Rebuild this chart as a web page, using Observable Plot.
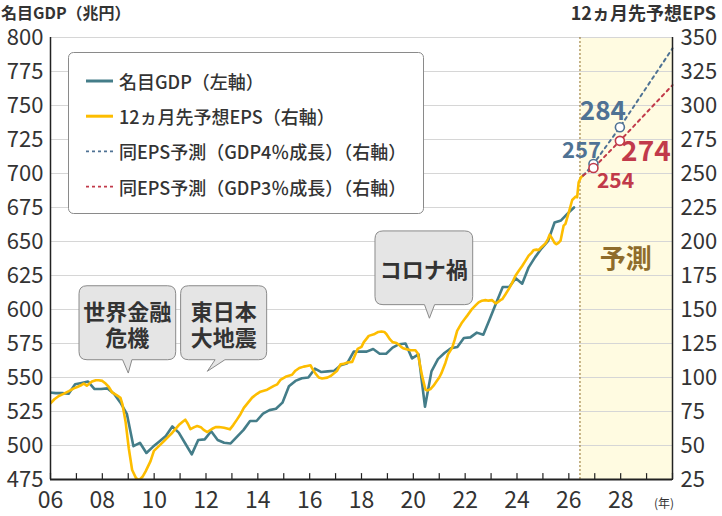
<!DOCTYPE html>
<html><head><meta charset="utf-8">
<script src="https://cdn.jsdelivr.net/npm/d3@7"></script>
<script src="https://cdn.jsdelivr.net/npm/@observablehq/plot@0.6"></script>
<style>body{margin:0;background:#fff;} svg{display:block}</style>
</head><body><div id="chart"></div>
<script>
const FONT = "'Noto Sans CJK JP','Noto Sans',sans-serif";

// ---- data ----
const gdpStart = 2005.95;      // first quarterly observation (decimal year)
const quarterStep = 0.25;
const gdpValues = [539,538.5,538.5,538,545,546,547,541.5,541.5,542,538,531.5,523,499.5,502,494.5,499,503,507,514,509.5,501.5,493.5,504,504.5,510.5,504,502,501.5,506.5,511.5,518,518,523.5,526,527,531.5,543.5,547.5,549.5,550,556.5,554,554.5,555,559,560.5,569,569,569,571,567.5,567.5,572,574.5,575,564,567,528.5,554.5,563.5,568,571.5,572.5,579,579.5,583,581.5,593,605,616.5,616.5,623,619,631,638.5,645,650.5,664,665.5,670.5,675];

const epsTimes = [2006.0,2006.15,2006.32,2006.5,2006.71,2006.9,2007.03,2007.2,2007.29,2007.4,2007.6,2007.75,2007.86,2008.0,2008.1,2008.25,2008.38,2008.55,2008.7,2008.78,2008.9,2009.02,2009.15,2009.3,2009.42,2009.55,2009.67,2009.86,2009.99,2010.18,2010.37,2010.55,2010.7,2010.95,2011.1,2011.2,2011.3,2011.4,2011.55,2011.66,2011.8,2011.91,2012.05,2012.24,2012.37,2012.5,2012.7,2012.92,2013.05,2013.2,2013.33,2013.46,2013.6,2013.78,2013.97,2014.1,2014.36,2014.62,2014.75,2014.87,2015.07,2015.32,2015.45,2015.6,2015.77,2015.9,2016.03,2016.12,2016.22,2016.35,2016.48,2016.68,2016.8,2016.93,2017.06,2017.19,2017.32,2017.45,2017.64,2017.72,2017.85,2018.0,2018.09,2018.19,2018.28,2018.51,2018.65,2018.77,2018.88,2018.96,2019.1,2019.2,2019.35,2019.45,2019.54,2019.63,2019.8,2019.89,2020.08,2020.18,2020.25,2020.34,2020.47,2020.55,2020.66,2020.78,2020.89,2021.0,2021.08,2021.24,2021.34,2021.5,2021.6,2021.69,2021.88,2021.98,2022.08,2022.27,2022.4,2022.52,2022.65,2022.78,2022.9,2023.04,2023.17,2023.23,2023.36,2023.43,2023.55,2023.68,2023.8,2023.94,2024.07,2024.2,2024.3,2024.45,2024.55,2024.65,2024.75,2024.84,2024.95,2025.1,2025.2,2025.26,2025.33,2025.39,2025.45,2025.52,2025.6,2025.68,2025.8,2025.87,2026.0,2026.13,2026.26,2026.32,2026.38,2026.47,2026.55];
const epsValues = [81,84,86.4,88,90,92,93,94.5,95.5,94,97,98,98,97.5,96,93,89,87,85,80,67,48,32,26,24.5,27,31,38.5,46,49.5,53,56.5,59.4,65,67.5,69,66,62,63.5,64.3,63.5,61.5,59.9,62.3,63.5,63.6,63,61.9,65,69.2,73,77.7,81,85.2,88,89.6,91,93.8,95,98.2,100.5,102,105,107,108,108.5,109,106,103,100,99.3,99.9,101,103,105,109.7,110,111,111.5,115,121,122.5,126,128.4,130.6,132,133.5,133.8,133.5,132,128,126,125.4,124,122.3,121.3,120.5,120,120,117.5,110,101,91,90.5,91.5,94,97,100,103,110.9,117,122,128,134.3,140.5,143,145.5,150.5,153,155.2,156.5,156.9,156.5,156.9,154.5,155,156.9,157.6,161,165,169,174.8,178.5,182,185,189.6,191.5,193.8,194,193.8,196,198.6,202,205,203,201,199,198,199,200.6,211.7,213,221.5,230.5,233,232.5,243.6,247.3,248.5];

const forecastTimes = [2026.55, 2026.95, 2027.97, 2030];
const forecast4 = [248.5, 257, 284, 342];   // GDP 4% growth
const forecast3 = [248.5, 254, 274, 315];   // GDP 3% growth
const forecastStart = 2026.43;

const gdpTicks = [475,500,525,550,575,600,625,650,675,700,725,750,775,800];
const epsTicks = [25,50,75,100,125,150,175,200,225,250,275,300,325,350];
const epsOffset = 450;  // right axis aligned: EPS + 450 = left-axis position
const xTickYears = [2006,2007,2008,2009,2010,2011,2012,2013,2014,2015,2016,2017,2018,2019,2020,2021,2022,2023,2024,2025,2026,2027,2028,2029,2030];
const xLabelYears = [2006,2008,2010,2012,2014,2016,2018,2020,2022,2024,2026,2028];
const xDomain = [2006, 2030];
const yDomain = [475, 800];

const legendItems = [
  {label: "名目GDP（左軸）", color: "#447d89", dash: null, width: 3},
  {label: "12ヵ月先予想EPS（右軸）", color: "#fdbd00", dash: null, width: 3},
  {label: "同EPS予測（GDP4％成長）（右軸）", color: "#4f7294", dash: "3,3", width: 1.6},
  {label: "同EPS予測（GDP3％成長）（右軸）", color: "#c13a4a", dash: "3,3", width: 1.6}
];
// callouts: box corners, pointer base and tip in data coordinates
const callouts = [
  {lines: ["世界金融", "危機"], x1: 2007.12, x2: 2010.85, top: 617.1, bottom: 562.7, b1: 2008.8, b2: 2009.16, tipX: 2009.02, tipY: 552.9},
  {lines: ["東日本", "大地震"], x1: 2011.04, x2: 2014.36, top: 617.1, bottom: 562.7, b1: 2012.37, b2: 2012.75, tipX: 2012.07, tipY: 554.2},
  {lines: ["コロナ禍"], x1: 2018.54, x2: 2022.31, top: 657.4, bottom: 603.2, b1: 2020.45, b2: 2020.84, tipX: 2020.64, tipY: 593.2}
];

// ---- derived tables ----
const gdp = gdpValues.map((v, i) => ({t: gdpStart + i * quarterStep, v}));
const eps = epsTimes.map((t, i) => ({t, v: epsValues[i] + epsOffset}));
const f4 = forecastTimes.map((t, i) => ({t, v: forecast4[i] + epsOffset, raw: forecast4[i]}));
const f3 = forecastTimes.map((t, i) => ({t, v: forecast3[i] + epsOffset, raw: forecast3[i]}));
const f4pts = f4.slice(1, 3), f3pts = f3.slice(1, 3);

const C = {gdp: "#447d89", eps: "#fdbd00", blue: "#4f7294", red: "#c13a4a", band: "#fffbe1", brown: "#8f6c2b", text: "#333"};
const tickUp = {draw(ctx, l) { ctx.moveTo(0, 0); ctx.lineTo(0, -l); }};

const chart = Plot.plot({
  width: 722, height: 516,
  marginLeft: 50, marginRight: 50, marginTop: 37, marginBottom: 37,
  style: {fontFamily: FONT, background: "transparent", overflow: "visible"},
  x: {domain: xDomain},
  y: {domain: yDomain},
  marks: [
    Plot.rect([forecastStart], {x1: d => d, x2: xDomain[1], y1: yDomain[0], y2: yDomain[1], fill: C.band}),
    Plot.gridY(gdpTicks, {stroke: "#d6d6d6", strokeOpacity: 1, strokeWidth: 1}),
    Plot.ruleX([forecastStart], {stroke: C.brown, strokeWidth: 1, strokeDasharray: "2,2"}),
    Plot.line(gdp, {x: "t", y: "v", stroke: C.gdp, strokeWidth: 2.6, clip: true}),
    Plot.line(eps, {x: "t", y: "v", stroke: C.eps, strokeWidth: 2.6, clip: true}),
    Plot.line(f4, {x: "t", y: "v", stroke: C.blue, strokeWidth: 2, strokeDasharray: "3,4"}),
    Plot.line(f3, {x: "t", y: "v", stroke: C.red, strokeWidth: 2, strokeDasharray: "3,4"}),
    Plot.dot(f4pts, {x: "t", y: "v", r: 4.5, fill: "#fff", stroke: C.blue, strokeWidth: 1.6}),
    Plot.dot(f3pts, {x: "t", y: "v", r: 4.5, fill: "#fff", stroke: C.red, strokeWidth: 1.6}),
    Plot.text([f4pts[0]], {x: "t", y: "v", text: d => String(d.raw), dx: -12, dy: -13, fill: C.blue, fontSize: 22, fontWeight: "bold"}),
    Plot.text([f4pts[1]], {x: "t", y: "v", text: d => String(d.raw), dx: -17, dy: -16, fill: C.blue, fontSize: 26, fontWeight: "bold"}),
    Plot.text([f3pts[0]], {x: "t", y: "v", text: d => String(d.raw), dx: 22, dy: 13, fill: C.red, fontSize: 21, fontWeight: "bold"}),
    Plot.text([f3pts[1]], {x: "t", y: "v", text: d => String(d.raw), dx: 26, dy: 11, fill: C.red, fontSize: 28, fontWeight: "bold"}),
    Plot.text(["予測"], {x: 2028.2, y: 637, text: d => d, fill: C.brown, fontSize: 26, fontWeight: "bold"}),
    Plot.ruleX([xDomain[0], xDomain[1]], {stroke: "#222", strokeWidth: 1.5}),
    Plot.ruleY([yDomain[0]], {stroke: "#222", strokeWidth: 2}),
    Plot.vector(xTickYears, {x: d => d, y: yDomain[0], length: 6, anchor: "start", shape: tickUp, stroke: "#222", strokeWidth: 1.2}),
    Plot.axisY(gdpTicks, {anchor: "left", tickSize: 0, tickPadding: 7, label: null, fontSize: 22, color: C.text}),
    Plot.axisY(epsTicks.map(d => d + epsOffset), {anchor: "right", tickSize: 0, tickPadding: 8, label: null, fontSize: 22, color: C.text, tickFormat: d => String(d - epsOffset)}),
    Plot.axisX(xLabelYears, {anchor: "bottom", tickSize: 0, tickPadding: 12, label: null, fontSize: 23, color: C.text, tickFormat: d => String(d).slice(2)})
  ]
});
document.getElementById("chart").appendChild(chart);

// ---- annotations drawn with the chart's own scales ----
const sx = v => chart.scale("x").apply(v), sy = v => chart.scale("y").apply(v);
const svg = d3.select(chart);

// callouts
const cg = svg.append("g");
callouts.forEach(c => {
  const x1 = sx(c.x1), x2 = sx(c.x2), y1 = sy(c.top), y2 = sy(c.bottom), r = 8;
  const bx1 = sx(c.b1), bx2 = sx(c.b2), tx = sx(c.tipX), ty = sy(c.tipY);
  const p = `M${x1 + r},${y1}H${x2 - r}Q${x2},${y1} ${x2},${y1 + r}V${y2 - r}Q${x2},${y2} ${x2 - r},${y2}H${bx2}L${tx},${ty}L${bx1},${y2}H${x1 + r}Q${x1},${y2} ${x1},${y2 - r}V${y1 + r}Q${x1},${y1} ${x1 + r},${y1}Z`;
  cg.append("path").attr("d", p).attr("fill", "#e5e5e5").attr("stroke", "#8a8a8a").attr("stroke-width", 1);
  const cx = (x1 + x2) / 2, cy = (y1 + y2) / 2, lh = 26;
  c.lines.forEach((ln, i) => {
    cg.append("text").attr("x", cx).attr("y", cy + (i - (c.lines.length - 1) / 2) * lh)
      .attr("text-anchor", "middle").attr("dominant-baseline", "central")
      .attr("font-family", FONT).attr("font-size", 22).attr("font-weight", "bold").attr("fill", C.text).text(ln);
  });
});

// legend
const lg = svg.append("g");
lg.append("rect").attr("x", 68.5).attr("y", 52.5).attr("width", 355).attr("height", 161).attr("rx", 5)
  .attr("fill", "#fff").attr("stroke", "#8a8a8a").attr("stroke-width", 1);
legendItems.forEach((it, i) => {
  const y = 81 + i * 35.2;
  lg.append("line").attr("x1", 86).attr("x2", 113).attr("y1", y).attr("y2", y)
    .attr("stroke", it.color).attr("stroke-width", it.width).attr("stroke-dasharray", it.dash);
  lg.append("text").attr("x", 119).attr("y", y).attr("text-anchor", "start").attr("dominant-baseline", "central")
    .attr("font-family", FONT).attr("font-size", 18).attr("font-weight", 500).attr("fill", C.text).text(it.label);
});

// axis titles
svg.append("text").attr("x", 1).attr("y", 12).attr("text-anchor", "start").attr("dominant-baseline", "central")
  .attr("font-family", FONT).attr("font-size", 16).attr("font-weight", "bold").attr("fill", C.text).text("名目GDP（兆円）");
svg.append("text").attr("x", 716).attr("y", 12).attr("text-anchor", "end").attr("dominant-baseline", "central")
  .attr("font-family", FONT).attr("font-size", 18).attr("font-weight", "bold").attr("fill", C.text).text("12ヵ月先予想EPS");
svg.append("text").attr("x", 664).attr("y", 502).attr("text-anchor", "middle").attr("dominant-baseline", "central")
  .attr("font-family", FONT).attr("font-size", 12).attr("fill", C.text).text("(年)");
</script>
</body></html>
